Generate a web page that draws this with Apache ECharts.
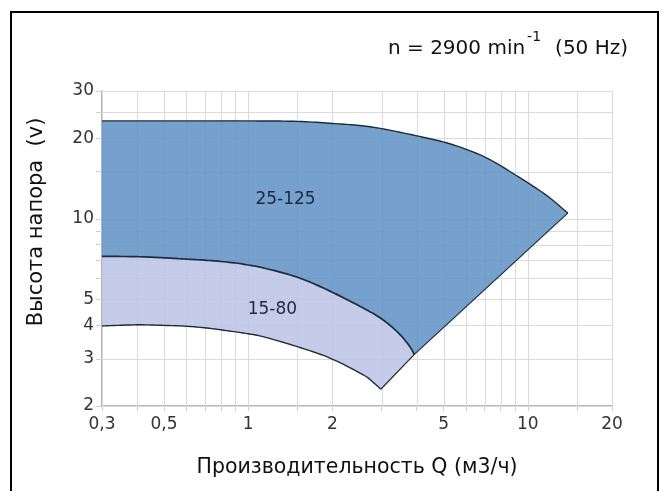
<!DOCTYPE html>
<html><head><meta charset="utf-8">
<script src="https://cdn.jsdelivr.net/npm/echarts@6/dist/echarts.min.js"></script>
<style>html,body{margin:0;padding:0;background:#fff}#c{width:662px;height:491px}</style>
</head><body><div id="c"></div>
<script>
// Axis ticks / labels
const xTickValues = [0.3,0.4,0.5,0.6,0.7,0.8,0.9,1,1.5,2,3,4,5,6,7,8,9,10,15,20];
const xLabelValues = [0.3,0.5,1,2,5,10,20];
const yTickValues = [2,3,4,5,6,7,8,9,10,15,20,25,30];
const yLabelValues = [2,3,4,5,10,20,30];

// Pump 25-125: upper head curve
const curve25Q = [0.3, 0.6, 1.0, 1.5, 2.0, 2.5, 3.0, 4.1, 5.4, 7.1, 9.3, 11.7, 13.9];
const curve25H = [23.2, 23.2, 23.2, 23.1, 22.7, 22.3, 21.7, 20.3, 18.9, 16.9, 14.3, 12.2, 10.5];
// Pump 15-80: upper curve (also lower boundary of the 25-125 field)
const curve15TopQ = [0.3, 0.4, 0.5, 0.6, 0.71, 0.89, 1.0, 1.13, 1.5, 1.96, 2.57, 2.98, 3.4, 3.7, 3.85, 3.92];
const curve15TopH = [7.24, 7.22, 7.15, 7.07, 7.0, 6.85, 6.72, 6.56, 6.05, 5.37, 4.65, 4.25, 3.8, 3.44, 3.24, 3.11];
// Pump 15-80: lower curve
const curve15BotQ = [0.3, 0.4, 0.5, 0.6, 0.71, 0.89, 1.0, 1.13, 1.5, 1.96, 2.57, 2.8, 2.98];
const curve15BotH = [3.98, 4.02, 4.0, 3.97, 3.91, 3.79, 3.72, 3.63, 3.33, 3.02, 2.62, 2.45, 2.31];
// Right-hand limit line
const limitQ = [2.98, 3.92, 13.9];
const limitH = [2.31, 3.11, 10.5];
// Field names and where they sit
const fieldNames = ['25-125', '15-80'];
const fieldLabelQ = [1.36, 1.22];
const fieldLabelH = [11.8, 4.6];

function fmt(v){ return String(+Number(v).toPrecision(6)).replace('.', ','); }
function toPx(qs, hs, api){ return qs.map((q,i)=>api.coord([q, hs[i]])); }
function spline(p, n){
  if (p.length < 3) return p.slice();
  const out = [];
  for (let i=0;i<p.length-1;i++){
    const p0=p[Math.max(i-1,0)], p1=p[i], p2=p[i+1], p3=p[Math.min(i+2,p.length-1)];
    for (let k=0;k<n;k++){
      const t=k/n, t2=t*t, t3=t2*t;
      const f = j => 0.5*((2*p1[j]) + (-p0[j]+p2[j])*t + (2*p0[j]-5*p1[j]+4*p2[j]-p3[j])*t2 + (-p0[j]+3*p1[j]-3*p2[j]+p3[j])*t3);
      out.push([f(0), f(1)]);
    }
  }
  out.push(p[p.length-1]);
  return out;
}

function renderFields(params, api){
  if (params.dataIndex !== 0) return;
  const cs = params.coordSys;
  const children = [];
  // grid lines at the chart's own tick values
  xTickValues.forEach(v=>{
    const x = Math.round(api.coord([v, yTickValues[0]])[0]) + 0.5;
    children.push({type:'line', shape:{x1:x, y1:cs.y, x2:x, y2:cs.y+cs.height}, style:{stroke:'#dadada', lineWidth:1}});
  });
  yTickValues.forEach(v=>{
    const y = Math.round(api.coord([xTickValues[0], v])[1]) + 0.5;
    children.push({type:'line', shape:{x1:cs.x, y1:y, x2:cs.x+cs.width, y2:y}, style:{stroke:'#dadada', lineWidth:1}});
  });
  const top25 = spline(toPx(curve25Q, curve25H, api), 10);
  const top15 = spline(toPx(curve15TopQ, curve15TopH, api), 10);
  const bot15 = spline(toPx(curve15BotQ, curve15BotH, api), 10);
  const lim = toPx(limitQ, limitH, api);
  const poly25 = top25.concat([lim[1]]).concat(top15.slice().reverse());
  const poly15 = top15.concat([lim[0]]).concat(bot15.slice().reverse());
  const stroke = '#1e2b3c';
  children.push(
    {type:'polygon', shape:{points:poly25}, style:{fill:'rgba(96,146,197,0.86)', stroke:'none'}},
    {type:'polygon', shape:{points:poly15}, style:{fill:'rgba(186,196,229,0.86)', stroke:'none'}},
    {type:'polyline', shape:{points:top25}, style:{stroke:stroke, lineWidth:1.4, fill:'none'}},
    {type:'polyline', shape:{points:top15}, style:{stroke:stroke, lineWidth:1.7, fill:'none'}},
    {type:'polyline', shape:{points:bot15}, style:{stroke:stroke, lineWidth:1.4, fill:'none'}},
    {type:'polyline', shape:{points:lim}, style:{stroke:stroke, lineWidth:1.2, fill:'none'}}
  );
  fieldNames.forEach((name,i)=>{
    const c = api.coord([fieldLabelQ[i], fieldLabelH[i]]);
    children.push({type:'text', style:{text:name, x:c[0], y:c[1], align:'center', verticalAlign:'middle',
      fill:'#1c2940', fontSize:17, fontFamily:'DejaVu Sans'}});
  });
  return {type:'group', children:children};
}

// measure helper for placing the superscript right after the main text
const mctx = document.createElement('canvas').getContext('2d');
function textW(s, font){ mctx.font = font; return mctx.measureText(s).width; }
const titleFont = '20px "DejaVu Sans"';
const supFont = '14px "DejaVu Sans"';
const t1 = 'n = 2900 min', t2 = '-1', t3 = '(50 Hz)';
const tx0 = 388;
const tx1 = tx0 + textW(t1, titleFont) + 2;
const tx2 = tx1 + textW(t2, supFont) + 14;

const chart = echarts.init(document.getElementById('c'), null, {renderer:'canvas'});
const axisFont = {fontSize:17, fontFamily:'DejaVu Sans', color:'#333'};
chart.setOption({
  animation:false,
  backgroundColor:'#fff',
  grid:{left:102, right:50, top:91, bottom:85, containLabel:false},
  xAxis:{
    type:'log', logBase:10, min:0.3, max:20,
    name:'Производительность Q (м3/ч)', nameLocation:'middle', nameGap:51,
    nameTextStyle:{fontSize:20.5, fontFamily:'DejaVu Sans', color:'#111'},
    axisLine:{show:true, lineStyle:{color:'#a0a0a0', width:1.6}},
    axisTick:{show:true, customValues:xTickValues, length:5, lineStyle:{color:'#cfcfcf'}},
    axisLabel:Object.assign({customValues:xLabelValues, formatter:fmt, margin:10}, axisFont),
    splitLine:{show:false}, minorTick:{show:false}, minorSplitLine:{show:false}
  },
  yAxis:{
    type:'log', logBase:10, min:2, max:30,
    axisLine:{show:true, lineStyle:{color:'#a0a0a0', width:1.6}},
    axisTick:{show:true, customValues:yTickValues, length:6, lineStyle:{color:'#cfcfcf'}},
    axisLabel:Object.assign({customValues:yLabelValues, formatter:fmt, margin:8}, axisFont),
    splitLine:{show:false}, minorTick:{show:false}, minorSplitLine:{show:false}
  },
  graphic:[
    {type:'rect', shape:{x:11, y:12, width:647, height:500}, style:{fill:'none', stroke:'#000', lineWidth:2}, silent:true},
    {type:'text', x:37, y:222, rotation:Math.PI/2,
      style:{text:'Высота напора  (v)', align:'center', verticalAlign:'middle', fontSize:21, fontFamily:'DejaVu Sans', fill:'#111'}},
    {type:'text', x:tx0, y:49, style:{text:t1, align:'left', verticalAlign:'middle', font:titleFont, fill:'#111'}},
    {type:'text', x:tx1, y:37, style:{text:t2, align:'left', verticalAlign:'middle', font:supFont, fill:'#111'}},
    {type:'text', x:tx2, y:49, style:{text:t3, align:'left', verticalAlign:'middle', font:titleFont, fill:'#111'}}
  ],
  series:[{
    type:'custom', coordinateSystem:'cartesian2d', renderItem:renderFields,
    data:[[curve25Q[0], curve25H[0]]], silent:true, clip:false
  }]
});
</script></body></html>
